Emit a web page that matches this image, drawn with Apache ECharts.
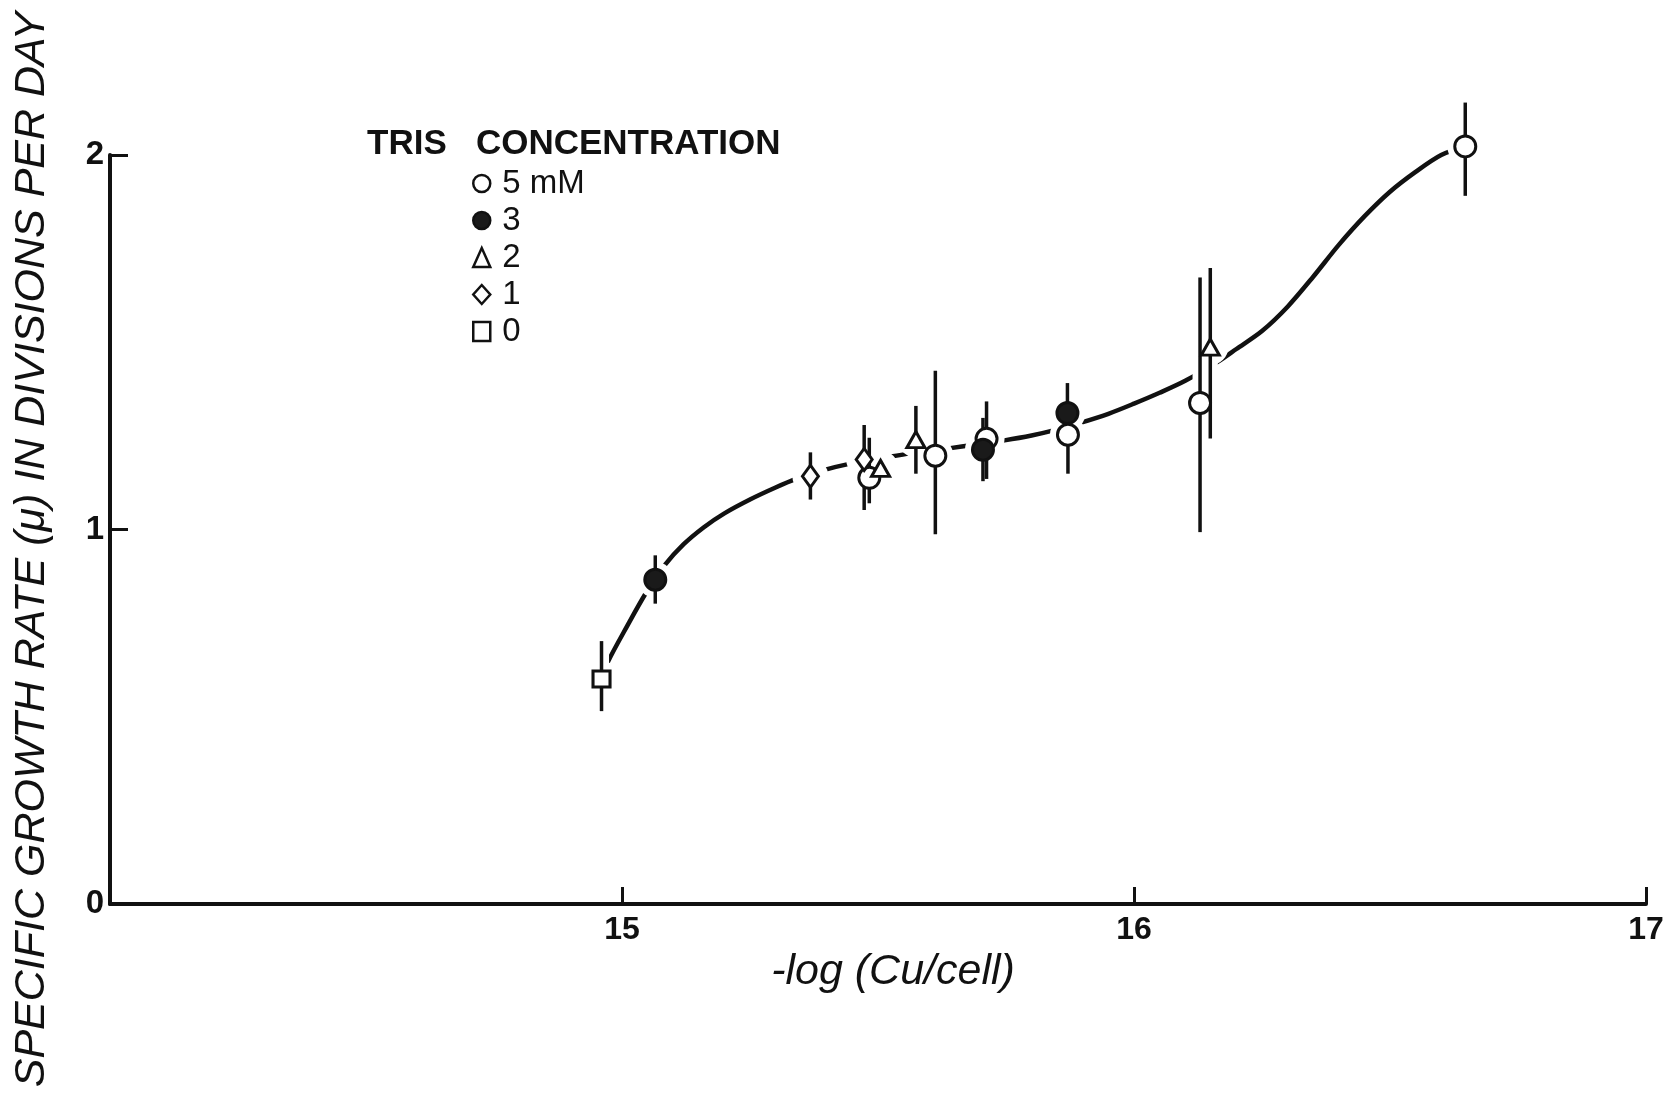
<!DOCTYPE html>
<html>
<head>
<meta charset="utf-8">
<title>Specific growth rate vs -log (Cu/cell)</title>
<script src="https://cdn.jsdelivr.net/npm/echarts@6/dist/echarts.min.js"></script>
<style>
  html, body { margin: 0; padding: 0; background: #fff; }
  #chart { width: 1667px; height: 1097px; }
</style>
</head>
<body>
<div id="chart"></div>
<script>
// Tick labels on each axis
const xTickLabels = [15, 16, 17];
const yTickLabels = [0, 1, 2];

// Measurements per Tris concentration: [-log(Cu/cell), mu, mu low, mu high]
const tris5mM = [
  [15.483, 1.138, 1.070, 1.245],
  [15.612, 1.197, 0.987, 1.424],
  [15.712, 1.242, 1.135, 1.342],
  [15.871, 1.253, 1.149, 1.300],
  [16.129, 1.338, 0.993, 1.673],
  [16.647, 2.023, 1.891, 2.140]
];
const tris3mM = [
  [15.065, 0.866, 0.802, 0.931],
  [15.705, 1.213, 1.129, 1.298],
  [15.870, 1.311, 1.260, 1.391]
];
const tris2mM = [
  [15.505, 1.163, 1.163, 1.163],
  [15.574, 1.240, 1.149, 1.330],
  [16.149, 1.487, 1.243, 1.698]
];
const tris1mM = [
  [15.368, 1.142, 1.080, 1.206],
  [15.473, 1.187, 1.052, 1.279]
];
const tris0mM = [
  [14.960, 0.601, 0.515, 0.702]
];

// Hand-fitted growth curve through the points
const fittedCurve = [
  [14.960, 0.601], [14.973, 0.648], [15.010, 0.742], [15.047, 0.831],
  [15.083, 0.904], [15.120, 0.960], [15.160, 1.006], [15.200, 1.043],
  [15.250, 1.080], [15.300, 1.112], [15.340, 1.135], [15.392, 1.158],
  [15.446, 1.176], [15.509, 1.191], [15.566, 1.204], [15.635, 1.216],
  [15.692, 1.227], [15.747, 1.238], [15.800, 1.251], [15.841, 1.264],
  [15.893, 1.284], [15.950, 1.309], [16.000, 1.336], [16.050, 1.365],
  [16.100, 1.397], [16.165, 1.449], [16.200, 1.482], [16.250, 1.530],
  [16.300, 1.595], [16.350, 1.675], [16.400, 1.760], [16.450, 1.836],
  [16.500, 1.902], [16.550, 1.955], [16.600, 2.000], [16.647, 2.023]
];

const INK = '#111';
const FONT = "'Liberation Sans', Arial, sans-serif";

const groups = [
  { name: '5 mM', rows: tris5mM, symbol: 'circle', size: 21, fill: '#fff' },
  { name: '3',    rows: tris3mM, symbol: 'circle', size: 21, fill: '#1a1a1a' },
  { name: '2',    rows: tris2mM, symbol: 'triangle', size: [18, 16], fill: '#fff' },
  { name: '1',    rows: tris1mM, symbol: 'diamond', size: [16, 22], fill: '#fff' },
  { name: '0',    rows: tris0mM, symbol: 'rect', size: [17, 16], fill: '#fff' }
];

const allRows = groups.flatMap(g => g.rows);
const barRows = allRows.filter(r => r[3] > r[2]).map(r => [r[0], r[2], r[3]]);

// Vertical error bar from mu low to mu high
function errorBar(width, color) {
  return function (params, api) {
    const x = api.value(0);
    const a = api.coord([x, api.value(1)]);
    const b = api.coord([x, api.value(2)]);
    return {
      type: 'line',
      shape: { x1: a[0], y1: a[1], x2: b[0], y2: b[1] },
      style: { stroke: color, lineWidth: width, lineCap: 'butt' }
    };
  };
}

const series = [
  {
    name: 'curve',
    type: 'line',
    data: fittedCurve,
    smooth: 0.3,
    showSymbol: false,
    symbol: 'none',
    clip: false,
    lineStyle: { color: INK, width: 4.5 },
    z: 1,
    silent: true
  },
  // white halos break the curve around each point and bar
  {
    name: 'gap',
    type: 'scatter',
    data: allRows.map(r => [r[0], r[1]]),
    symbol: 'circle',
    symbolSize: 36,
    clip: false,
    itemStyle: { color: '#fff', opacity: 1 },
    z: 2,
    silent: true
  },
  {
    name: 'barGap',
    type: 'custom',
    data: barRows,
    renderItem: errorBar(15, '#fff'),
    encode: { x: 0, y: [1, 2] },
    clip: false,
    z: 2,
    silent: true
  },
  {
    name: 'bars',
    type: 'custom',
    data: barRows,
    renderItem: errorBar(3.5, INK),
    encode: { x: 0, y: [1, 2] },
    clip: false,
    z: 3,
    silent: true
  }
];

groups.forEach(g => {
  series.push({
    name: g.name,
    type: 'scatter',
    data: g.rows.map(r => [r[0], r[1]]),
    symbol: g.symbol,
    symbolSize: g.size,
    clip: false,
    itemStyle: { color: g.fill, borderColor: INK, borderWidth: 3, opacity: 1 },
    z: 4
  });
});

const chart = echarts.init(document.getElementById('chart'), null, { renderer: 'canvas' });
chart.setOption({
  backgroundColor: '#fff',
  animation: false,
  title: {
    text: 'TRIS   CONCENTRATION',
    left: 362,
    top: 122,
    textStyle: { fontFamily: FONT, fontSize: 35, fontWeight: 'bold', color: INK }
  },
  legend: {
    data: groups.map(g => g.name),
    orient: 'vertical',
    left: 467,
    top: 160,
    itemGap: 0,
    itemWidth: 17,
    itemHeight: 19,
    itemStyle: { borderWidth: 2.5 },
    textStyle: { fontFamily: FONT, fontSize: 33, color: INK, lineHeight: 37, padding: [0, 0, 0, 7] },
    selectedMode: false
  },
  grid: { left: 110, right: 21, top: 155, bottom: 193, containLabel: false },
  xAxis: {
    type: 'value',
    min: 14,
    max: 17,
    interval: 1,
    name: '-log (Cu/cell)',
    nameLocation: 'middle',
    nameGap: 45,
    nameTextStyle: { fontFamily: FONT, fontSize: 43, fontStyle: 'italic', color: INK, padding: [0, 0, 0, 30] },
    axisLine: { show: true, lineStyle: { color: INK, width: 4 } },
    axisTick: { show: true, inside: true, length: 17, lineStyle: { color: INK, width: 3 } },
    axisLabel: {
      margin: 10,
      fontFamily: FONT, fontSize: 32, fontWeight: 'bold', color: INK,
      formatter: v => (xTickLabels.includes(v) ? String(v) : '')
    },
    splitLine: { show: false }
  },
  yAxis: {
    type: 'value',
    min: 0,
    max: 2,
    interval: 1,
    name: 'SPECIFIC GROWTH RATE (\u03bc) IN DIVISIONS PER DAY',
    nameLocation: 'middle',
    nameGap: 56,
    nameTextStyle: { fontFamily: FONT, fontSize: 43, fontStyle: 'italic', color: INK, padding: [0, 40, 0, 0] },
    axisLine: { show: true, lineStyle: { color: INK, width: 4 } },
    axisTick: { show: true, inside: true, length: 18, lineStyle: { color: INK, width: 3 } },
    axisLabel: {
      margin: 6,
      fontFamily: FONT, fontSize: 33, fontWeight: 'bold', color: INK,
      formatter: v => (yTickLabels.includes(v) ? String(v) : '')
    },
    splitLine: { show: false }
  },
  series: series
});
</script>
</body>
</html>
